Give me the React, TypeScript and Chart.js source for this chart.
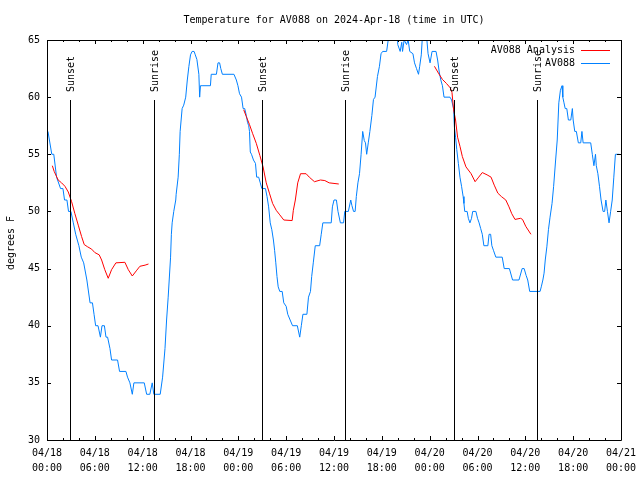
import React, { useEffect, useRef } from "react";
import { Chart, registerables } from "chart.js";

Chart.register(...registerables);

// ---- Data (hours since 2024-04-18 00:00 UTC) ----
const obsHours = [
  0.12, 0.6, 0.85, 1.2, 1.7, 2.0, 2.2, 2.5, 2.7, 3.0, 3.3, 3.6, 3.8, 4.0, 4.3, 4.6, 5.0, 5.4, 5.7, 5.9,
  6.1, 6.4, 6.7, 6.9, 7.2, 7.4, 7.6, 7.9, 8.1, 8.85, 9.1, 9.9, 10.1, 10.4, 10.7, 10.9, 12.2, 12.5, 12.9, 13.2,
  13.4, 14.2, 14.5, 14.8, 15.0, 15.2, 15.5, 15.6, 15.7, 15.9, 16.15, 16.2, 16.45, 16.6, 16.7, 16.95, 17.15, 17.4, 17.6, 17.8,
  18.0, 18.2, 18.45, 18.6, 18.8, 19.05, 19.15, 19.25, 19.45, 20.5, 20.6, 21.25, 21.45, 21.65, 21.8, 22.0, 23.45, 23.75, 23.95, 24.15,
  24.4, 24.6, 24.8, 25.0, 25.15, 25.3, 25.4, 25.5, 25.65, 25.9, 26.15, 26.3, 26.55, 26.75, 26.95, 27.4, 27.6, 27.8, 28.0, 28.2,
  28.4, 28.55, 28.7, 28.85, 29.0, 29.2, 29.5, 29.7, 30.0, 30.2, 30.5, 30.8, 31.4, 31.7, 31.9, 32.1, 32.6, 32.8, 33.05, 33.2,
  33.4, 33.65, 34.2, 34.4, 34.6, 35.65, 35.8, 36.0, 36.3, 36.5, 36.8, 37.2, 37.35, 37.8, 38.1, 38.25, 38.45, 38.65, 38.8, 39.0,
  39.2, 39.4, 39.6, 39.8, 39.95, 40.1, 40.3, 40.5, 40.75, 40.95, 41.15, 41.45, 41.7, 41.9, 42.1, 42.6, 42.8, 43.0, 43.9, 44.0,
  44.3, 44.5, 44.6, 44.8, 45.1, 45.3, 45.5, 45.9, 46.1, 46.35, 46.6, 46.75, 46.95, 47.15, 47.5, 47.65, 47.8, 48.05, 48.3, 48.8,
  49.0, 49.2, 49.4, 49.6, 49.8, 50.55, 50.75, 51.0, 51.1, 51.25, 51.4, 51.6, 51.8, 52.0, 52.2, 52.3, 52.4, 52.7, 52.85, 53.05,
  53.25, 53.4, 53.8, 54.0, 54.2, 54.4, 54.6, 54.8, 55.3, 55.45, 55.65, 55.8, 56.0, 56.3, 57.1, 57.35, 58.0, 58.4, 59.2, 59.6,
  59.85, 60.1, 60.3, 60.55, 61.85, 62.0, 62.2, 62.35, 62.5, 62.7, 62.9, 63.1, 63.35, 63.55, 63.8, 64.0, 64.2, 64.4, 64.6, 64.7,
  64.85, 65.0, 65.2, 65.4, 65.7, 65.9, 66.0, 66.2, 66.4, 66.65, 66.95, 67.1, 67.25, 68.2, 68.4, 68.6, 68.8, 68.9, 69.1, 69.3,
  69.5, 69.75, 69.95, 70.1, 70.3, 70.5, 70.7, 70.9, 71.1, 71.3, 71.8,
];
const obsTemps = [
  57, 55, 55, 53, 52, 52, 51, 51, 50, 50, 49, 48, 47.5, 47, 46, 45.5, 44, 42, 42, 41,
  40, 40, 39, 40, 40, 39, 39, 38, 37, 37, 36, 36, 35.5, 35, 34, 35, 35, 34, 34, 35,
  34, 34, 35.5, 38, 40.5, 42.5, 46, 48, 49, 50, 51, 51.5, 53, 55, 57, 59, 59.3, 60, 61.5, 62.7,
  63.7, 64, 64, 63.7, 63.3, 62, 60, 61, 61, 61, 62, 62, 63, 63, 62.5, 62, 62, 61.5, 61, 60.3,
  60, 59, 59, 58.4, 57.8, 57.5, 57, 55.2, 55, 54.5, 54.2, 53, 53, 52.5, 52, 52, 51.3, 50.4, 49, 48.4,
  47.5, 46.6, 45.5, 44.3, 43.4, 43, 43, 42, 41.7, 41, 40.5, 40, 40, 39, 40, 41, 41, 42.5, 43, 44.3,
  45.5, 47, 47, 48, 49, 49, 50.4, 51, 51, 50, 49, 49, 50, 50, 51, 50.5, 50, 50, 51.3, 52.5,
  53.3, 55, 57, 56.2, 56, 55, 56, 57, 58.4, 59.8, 60, 61.8, 62.7, 63.8, 64, 64, 65, 66, 66, 64.6,
  64, 64.8, 64, 65, 64.6, 65, 64, 63.8, 63, 62.5, 62, 62.7, 63.7, 66, 66, 65, 63.8, 63, 64, 64,
  63.25, 62.2, 61.5, 61, 60, 60, 59.75, 59, 57.4, 56.5, 55.4, 54.2, 53, 52.2, 51.3, 50.7, 50, 50, 49.4, 49,
  49.4, 50, 50, 49.4, 49, 48.5, 48, 47, 47, 48, 48, 47, 46.6, 46, 46, 45, 45, 44, 44, 45,
  45, 44.4, 44, 43, 43, 43.4, 44, 44.6, 45.75, 46.9, 48.4, 49.5, 50.7, 52.2, 54.5, 56.25, 59.5, 60.6, 61, 60,
  59.5, 59, 59, 58, 58, 59, 58, 57, 57, 56, 56, 57, 56, 56, 55, 54, 55, 54, 53.3, 52.2,
  51, 50, 50, 51, 50, 49, 50, 51, 53, 55, 55,
];

const analysisHours = [
  0.67, 0.9, 1.4, 1.83, 2.25, 2.67, 3.09, 3.5, 3.92, 4.34, 4.67, 5.1, 5.6, 6.0, 6.55, 6.85, 7.25, 7.68, 8.1, 8.64,
  9.77, 10.2, 10.7, 11.2, 11.65, 12.3, 12.73, 18,
  24.67, 25.0, 25.4, 25.8, 26.25, 26.7, 27.1, 27.5, 27.9, 28.3, 28.75, 29.2, 29.7, 30.75, 30.9, 31.15, 31.45, 31.8,
  32.5, 32.9, 33.55, 34.3, 34.85, 35.4, 36.6, 42,
  48.6, 49.1, 49.6, 50.1, 50.6, 50.8, 51.0, 51.25, 51.5, 51.8, 52.1, 52.55, 53.2, 53.7, 54.15, 54.6, 55.2, 55.7, 56.1, 56.55,
  57.0, 57.55, 57.95, 58.3, 58.7, 59.4, 59.65, 60.05, 60.7,
];
const analysisTemps = [
  54, 53.5, 52.75, 52.5, 52.2, 51.7, 50.85, 49.8, 48.8, 47.8, 47.1, 46.9, 46.7, 46.4, 46.2, 45.75, 44.9, 44.15, 44.9, 45.5,
  45.55, 44.9, 44.35, 44.8, 45.2, 45.3, 45.4, null,
  58.9, 58.3, 57.6, 56.8, 55.96, 54.9, 53.9, 52.5, 51.6, 50.7, 50.1, 49.7, 49.25, 49.2, 50.1, 51.0, 52.5, 53.3,
  53.3, 53.0, 52.6, 52.75, 52.7, 52.5, 52.4, null,
  62.7, 62.1, 61.55, 61.2, 60.8, 60.4, 58.9, 58.0, 56.5, 55.7, 54.8, 53.9, 53.3, 52.6, 53.0, 53.4, 53.2, 53.0, 52.3, 51.6,
  51.3, 51.0, 50.4, 49.8, 49.3, 49.4, 49.3, 48.7, 48.0,
];

const sunEventHours = [2.9, 13.4, 27.0, 37.4, 51.1, 61.5];
const sunEventLabels = ["Sunset", "Sunrise", "Sunset", "Sunrise", "Sunset", "Sunrise"];

const xTickLabels = [
  ["04/18", "00:00"], ["04/18", "06:00"], ["04/18", "12:00"], ["04/18", "18:00"],
  ["04/19", "00:00"], ["04/19", "06:00"], ["04/19", "12:00"], ["04/19", "18:00"],
  ["04/20", "00:00"], ["04/20", "06:00"], ["04/20", "12:00"], ["04/20", "18:00"],
  ["04/21", "00:00"],
];

const seriesNames = ["AV088 Analysis", "AV088"];
const seriesColors = ["#ff0000", "#0080ff"];
const titleText = "Temperature for AV088 on 2024-Apr-18 (time in UTC)";
const yAxisTitle = "degrees F";

const FONT = "'DejaVu Sans Mono', 'Liberation Mono', monospace";

const decorPlugin = {
  id: "decor",
  afterDatasetsDraw(chart: any) {
    const { ctx, chartArea: a, scales } = chart;
    const x = scales.x;
    const y = scales.y;
    ctx.save();
    ctx.strokeStyle = "#000";
    ctx.fillStyle = "#000";
    ctx.lineWidth = 1;

    // sunrise / sunset markers
    const lineTop = Math.round(a.top + 0.15 * (a.bottom - a.top));
    ctx.font = `10px ${FONT}`;
    sunEventHours.forEach((h, i) => {
      const px = Math.round(x.getPixelForValue(h)) + 0.5;
      ctx.beginPath();
      ctx.moveTo(px, lineTop);
      ctx.lineTo(px, a.bottom);
      ctx.stroke();
      ctx.save();
      ctx.translate(px + 0.5, lineTop - 8);
      ctx.rotate(-Math.PI / 2);
      ctx.textAlign = "left";
      ctx.textBaseline = "middle";
      ctx.fillText(sunEventLabels[i], 0, 0);
      ctx.restore();
    });

    // frame
    ctx.beginPath();
    ctx.rect(a.left + 0.5, a.top + 0.5, a.right - a.left, a.bottom - a.top);
    ctx.stroke();

    // x ticks (inward, mirrored)
    for (let h = 0; h <= 72; h += 2) {
      const px = Math.round(x.getPixelForValue(h)) + 0.5;
      const len = h % 6 === 0 ? 4 : 2;
      ctx.beginPath();
      ctx.moveTo(px, a.bottom);
      ctx.lineTo(px, a.bottom - len);
      ctx.moveTo(px, a.top);
      ctx.lineTo(px, a.top + len);
      ctx.stroke();
    }
    // y ticks
    for (let v = 30; v <= 65; v += 5) {
      const py = Math.round(y.getPixelForValue(v)) + 0.5;
      ctx.beginPath();
      ctx.moveTo(a.left, py);
      ctx.lineTo(a.left + 4, py);
      ctx.moveTo(a.right, py);
      ctx.lineTo(a.right - 4, py);
      ctx.stroke();
    }

    // legend (text right-aligned, sample line on the right)
    ctx.font = `10px ${FONT}`;
    ctx.textAlign = "right";
    ctx.textBaseline = "middle";
    seriesNames.forEach((name, i) => {
      const ty = a.top + 10 + i * 13;
      ctx.fillStyle = "#000";
      ctx.fillText(name, 575, ty);
      ctx.strokeStyle = seriesColors[i];
      ctx.beginPath();
      ctx.moveTo(581, ty + 0.5);
      ctx.lineTo(610, ty + 0.5);
      ctx.stroke();
    });

    // title
    ctx.fillStyle = "#000";
    ctx.font = `10px ${FONT}`;
    ctx.textAlign = "center";
    ctx.textBaseline = "middle";
    ctx.fillText(titleText, (a.left + a.right) / 2, 20);

    // y axis title
    ctx.save();
    ctx.translate(11, (a.top + a.bottom) / 2 + 3);
    ctx.rotate(-Math.PI / 2);
    ctx.textAlign = "center";
    ctx.textBaseline = "middle";
    ctx.fillText(yAxisTitle, 0, 0);
    ctx.restore();

    ctx.restore();
  },
};

export default function App() {
  const canvasRef = useRef<HTMLCanvasElement | null>(null);

  useEffect(() => {
    const canvas = canvasRef.current;
    if (!canvas) return;
    const chart = new Chart(canvas, {
      type: "line",
      data: {
        datasets: [
          {
            label: seriesNames[0],
            data: analysisHours.map((h, i) => ({ x: h, y: analysisTemps[i] })) as any,
            borderColor: seriesColors[0],
            borderWidth: 1,
            pointRadius: 0,
            tension: 0,
            spanGaps: false,
            fill: false,
          },
          {
            label: seriesNames[1],
            data: obsHours.map((h, i) => ({ x: h, y: obsTemps[i] })) as any,
            borderColor: seriesColors[1],
            borderWidth: 1,
            pointRadius: 0,
            tension: 0,
            fill: false,
          },
        ],
      },
      options: {
        animation: false,
        responsive: false,
        maintainAspectRatio: false,
        devicePixelRatio: 1,
        layout: { padding: { top: 40, right: 19, left: 0, bottom: 0 } },
        plugins: {
          legend: { display: false },
          title: { display: false },
          tooltip: { enabled: false },
        },
        scales: {
          x: {
            type: "linear",
            min: 0,
            max: 72,
            afterFit: (s: any) => {
              s.height = 40;
              s.paddingLeft = 0;
              s.paddingRight = 0;
            },
            grid: { display: false, drawTicks: false },
            border: { display: false },
            ticks: {
              stepSize: 6,
              autoSkip: false,
              maxRotation: 0,
              minRotation: 0,
              padding: 6,
              color: "#000",
              font: { family: FONT, size: 10, lineHeight: 1.5 },
              callback: (v: any) => xTickLabels[Math.round(Number(v) / 6)] as any,
            },
          },
          y: {
            type: "linear",
            min: 30,
            max: 65,
            afterFit: (s: any) => {
              s.width = 47;
            },
            grid: { display: false, drawTicks: false },
            border: { display: false },
            ticks: {
              stepSize: 5,
              padding: 7,
              color: "#000",
              font: { family: FONT, size: 10 },
            },
          },
        },
      },
      plugins: [decorPlugin],
    });
    return () => chart.destroy();
  }, []);

  return (
    <div style={{ position: "fixed", left: 0, top: 0, width: 640, height: 480, background: "#fff" }}>
      <canvas ref={canvasRef} width={640} height={480} style={{ width: 640, height: 480 }} />
    </div>
  );
}
